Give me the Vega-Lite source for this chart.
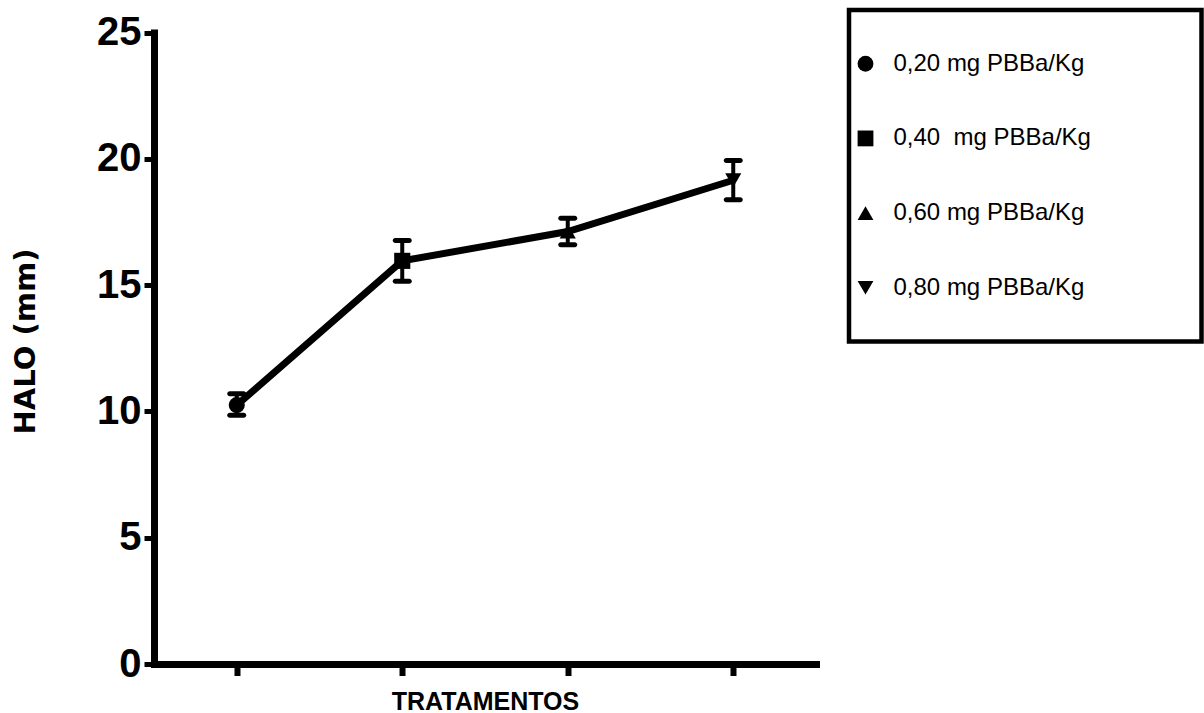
{
  "$schema": "https://vega.github.io/schema/vega-lite/v6.json",
  "background": "white",
  "padding": {"left": 11, "top": 7, "right": 0, "bottom": 0},
  "spacing": 30,
  "datasets": {
    "halo": [
      {"tratamento": "0,20 mg PBBa/Kg", "halo": 10.25, "lo": 9.85, "hi": 10.7},
      {"tratamento": "0,40\u00a0 mg PBBa/Kg", "halo": 15.96, "lo": 15.15, "hi": 16.77},
      {"tratamento": "0,60 mg PBBa/Kg", "halo": 17.12, "lo": 16.6, "hi": 17.65},
      {"tratamento": "0,80 mg PBBa/Kg", "halo": 19.15, "lo": 18.38, "hi": 19.93}
    ]
  },
  "config": {
    "view": {"stroke": null},
    "axisY": {
      "domainColor": "black", "domainWidth": 7, "domainCap": "square",
      "tickColor": "black", "tickWidth": 5, "tickSize": 10,
      "labelFont": "Liberation Sans, Arial, sans-serif",
      "labelFontSize": 40, "labelFontWeight": "bold", "labelColor": "black",
      "labelPadding": 3, "labelFlush": false, "grid": false,
      "titleFont": "DejaVu Sans", "titleFontSize": 29, "titleFontWeight": "bold",
      "titleColor": "black", "titlePadding": 56, "titleY": 331
    },
    "axisX": {
      "domainColor": "black", "domainWidth": 7, "domainCap": "square",
      "tickColor": "black", "tickWidth": 6, "tickSize": 11.5,
      "labels": false, "grid": false,
      "titleFont": "Liberation Sans, Arial, sans-serif",
      "titleFontSize": 25, "titleFontWeight": "bold", "titleColor": "black",
      "titlePadding": 11
    }
  },
  "hconcat": [
    {
      "width": 662,
      "height": 654,
      "data": {"name": "halo"},
      "encoding": {
        "x": {
          "field": "tratamento", "type": "nominal", "sort": null,
          "scale": {"type": "point", "padding": 0.5},
          "title": "TRATAMENTOS"
        },
        "y": {
          "field": "halo", "type": "quantitative", "title": "HALO (mm)",
          "scale": {"domain": [0, 25], "range": [654, 22.5], "nice": false, "zero": true},
          "axis": {"values": [0, 5, 10, 15, 20, 25]}
        }
      },
      "layer": [
        {"mark": {"type": "line", "color": "black", "strokeWidth": 7}},
        {
          "mark": {"type": "rule", "color": "black", "strokeWidth": 4},
          "encoding": {
            "y": {"field": "lo", "type": "quantitative", "title": "HALO (mm)"},
            "y2": {"field": "hi"}
          }
        },
        {
          "mark": {"type": "tick", "color": "black", "size": 19, "thickness": 5, "cornerRadius": 2.5, "opacity": 1},
          "encoding": {"y": {"field": "lo", "type": "quantitative", "title": "HALO (mm)"}}
        },
        {
          "mark": {"type": "tick", "color": "black", "size": 19, "thickness": 5, "cornerRadius": 2.5, "opacity": 1},
          "encoding": {"y": {"field": "hi", "type": "quantitative", "title": "HALO (mm)"}}
        },
        {
          "mark": {"type": "point", "filled": true, "color": "black", "opacity": 1, "size": 260},
          "encoding": {
            "shape": {
              "field": "tratamento", "type": "nominal", "legend": null,
              "scale": {
                "domain": ["0,20 mg PBBa/Kg", "0,40\u00a0 mg PBBa/Kg", "0,60 mg PBBa/Kg", "0,80 mg PBBa/Kg"],
                "range": ["circle", "square", "triangle-up", "triangle-down"]
              }
            }
          }
        }
      ]
    },
    {
      "width": 352.5,
      "height": 331.5,
      "view": {"stroke": "black", "strokeWidth": 4.5, "fill": "white"},
      "data": {"name": "halo"},
      "encoding": {
        "y": {
          "field": "tratamento", "type": "nominal", "sort": null,
          "scale": {"type": "point", "padding": 0.72}, "axis": null
        }
      },
      "layer": [
        {
          "mark": {"type": "point", "filled": true, "color": "black", "opacity": 1, "size": 250},
          "encoding": {
            "x": {"datum": 16.5, "type": "quantitative", "scale": {"domain": [0, 352.5], "nice": false, "zero": false}, "axis": null},
            "shape": {
              "field": "tratamento", "type": "nominal", "legend": null,
              "scale": {
                "domain": ["0,20 mg PBBa/Kg", "0,40\u00a0 mg PBBa/Kg", "0,60 mg PBBa/Kg", "0,80 mg PBBa/Kg"],
                "range": ["circle", "square", "triangle-up", "triangle-down"]
              }
            }
          }
        },
        {
          "mark": {
            "type": "text", "align": "left", "baseline": "middle", "color": "black",
            "font": "Liberation Sans, Arial, sans-serif", "fontSize": 24
          },
          "encoding": {
            "x": {"datum": 44.5, "type": "quantitative", "axis": null},
            "text": {"field": "tratamento"}
          }
        }
      ]
    }
  ]
}
